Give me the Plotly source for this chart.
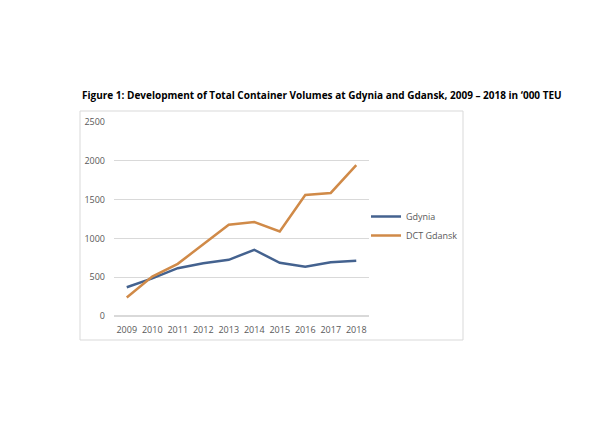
import plotly.graph_objects as go

# container volumes, '000 TEU
years = ["2009", "2010", "2011", "2012", "2013", "2014", "2015", "2016", "2017", "2018"]
gdynia = [371, 485, 616, 681, 724, 853, 685, 635, 694, 711]
dct_gdansk = [239, 508, 672, 930, 1177, 1211, 1090, 1560, 1586, 1944]

# the page body adds an 8px margin, so work in shifted pixel coords
OFF = 8
W, H = 613 - OFF, 438 - OFF
# plot area in (reference) pixels
L, R, T, B = 114, 369, 122, 316
pw, ph = R - L, B - T


def px_x(x):
    return (x - L) / pw


def px_y(y):
    return (B - y) / ph


fig = go.Figure()
fig.add_trace(go.Scatter(x=years, y=gdynia, name="Gdynia", mode="lines",
                         line=dict(color="#44628F", width=2.5)))
fig.add_trace(go.Scatter(x=years, y=dct_gdansk, name="DCT Gdansk", mode="lines",
                         line=dict(color="#D08A48", width=2.5)))

# chart frame
fig.add_shape(type="rect", xref="paper", yref="paper",
              x0=px_x(80), x1=px_x(463), y0=px_y(340), y1=px_y(111),
              line=dict(color="#D9D9D9", width=1), layer="below")

fig.add_annotation(
    text="<b>Figure 1: Development of Total Container Volumes at Gdynia and Gdansk, 2009 \u2013 2018 in \u2018000 TEU</b>",
    xref="paper", yref="paper", x=px_x(80), y=px_y(95),
    xanchor="left", yanchor="middle", showarrow=False,
    font=dict(family="Open Sans", size=10, color="#000000"))

fig.update_layout(
    width=W, height=H,
    margin=dict(l=L - OFF, r=W - (R - OFF), t=T - OFF, b=H - (B - OFF)),
    paper_bgcolor="white", plot_bgcolor="white",
    font=dict(family="Open Sans", size=9, color="#595959"),
    showlegend=True,
    legend=dict(x=px_x(366), y=px_y(226), xanchor="left", yanchor="middle",
                bgcolor="rgba(0,0,0,0)", font=dict(size=9, color="#595959"),
                itemwidth=30, tracegroupgap=4),
    xaxis=dict(type="category", range=[-0.5, len(years) - 0.5], showgrid=False,
               showline=False, ticks="",
               tickfont=dict(size=9, color="#595959"), ticklabelstandoff=7),
    yaxis=dict(range=[0, 2500], dtick=500, showgrid=True, gridcolor="#D9D9D9",
               gridwidth=1, zeroline=True, zerolinecolor="#D9D9D9", showline=False,
               ticks="", tickfont=dict(size=9, color="#595959"), ticklabelstandoff=8),
)

fig.write_html("out.html")
